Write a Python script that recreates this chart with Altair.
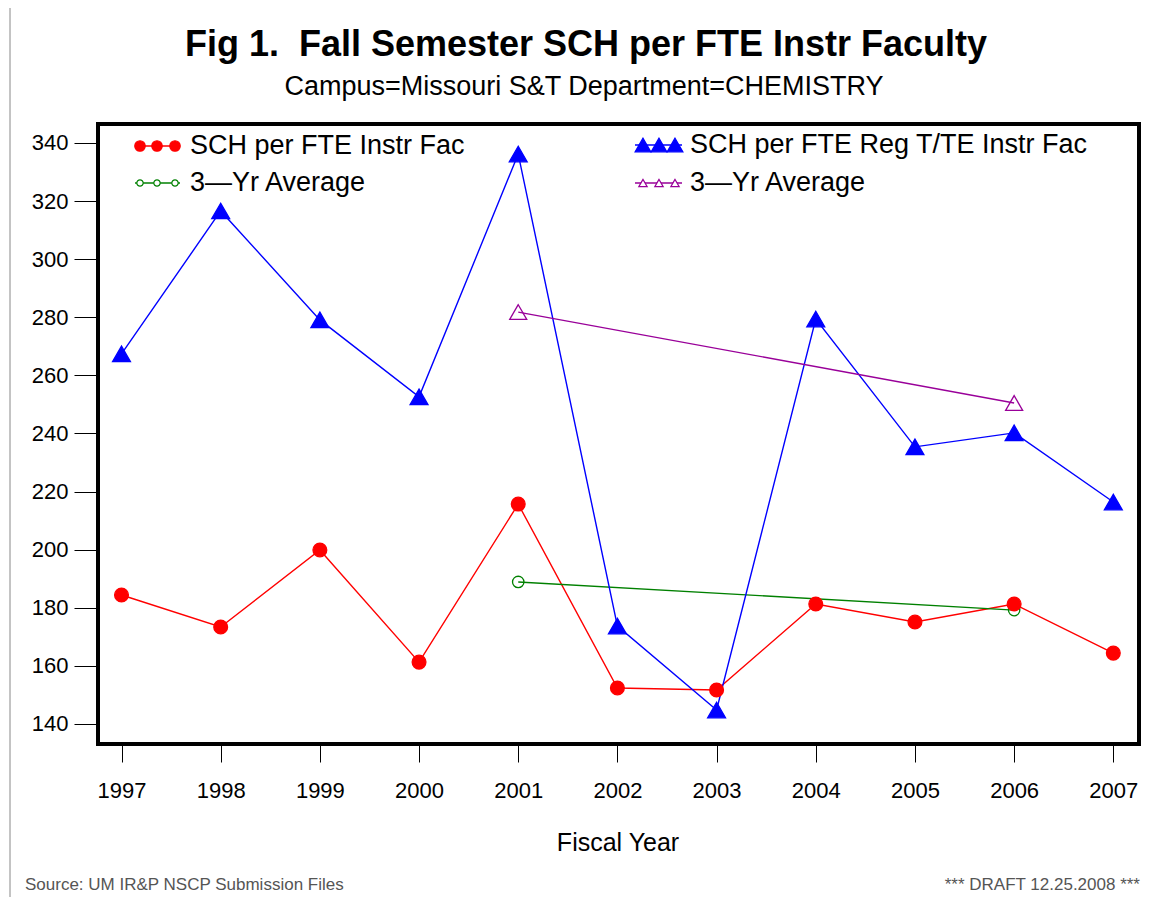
import altair as alt
import pandas as pd

# ---- data ----
years = [1997, 1998, 1999, 2000, 2001, 2002, 2003, 2004, 2005, 2006, 2007]
sch_instr = [184.4, 173.4, 199.9, 161.3, 215.7, 152.4, 151.7, 181.3, 175.1, 181.3, 164.4]
sch_regtte = [267.4, 316.6, 279.1, 252.6, 336.2, 173.7, 144.8, 279.4, 235.4, 240.2, 216.4]
avg_years = [2001, 2006]
avg_instr = [188.9, 179.2]
avg_regtte = [281.8, 250.5]
y_ticks = [140, 160, 180, 200, 220, 240, 260, 280, 300, 320, 340]

series_names = ["SCH per FTE Instr Fac", "3\u2014Yr Average",
                "SCH per FTE Reg T/TE Instr Fac", "3\u2014Yr Average "]
series_colors = ["#ff0000", "#008000", "#0000ff", "#990099"]
series_shapes = ["circle", "circle", "triangle-up", "triangle-up"]
series_filled = [True, False, True, False]

title_text = "Fig 1. \u00a0Fall Semester SCH per FTE Instr Faculty"
subtitle_text = "Campus=Missouri S&T Department=CHEMISTRY"
x_title = "Fiscal Year"
footer_left = "Source: UM IR&P NSCP Submission Files"
footer_right = "*** DRAFT 12.25.2008 ***"

FONT = "Liberation Sans"
W, H = 1041, 620

# ---- tables ----
rows = []
for yr, v in zip(years, sch_instr):
    rows.append({"year": yr, "value": v, "series": series_names[0]})
for yr, v in zip(avg_years, avg_instr):
    rows.append({"year": yr, "value": v, "series": series_names[1]})
for yr, v in zip(years, sch_regtte):
    rows.append({"year": yr, "value": v, "series": series_names[2]})
for yr, v in zip(avg_years, avg_regtte):
    rows.append({"year": yr, "value": v, "series": series_names[3]})
df = pd.DataFrame(rows)

xscale = alt.Scale(domain=[1996.763, 2007.259], nice=False, zero=False)
yscale = alt.Scale(domain=[133.11, 346.54], nice=False, zero=False)
color_scale = alt.Scale(domain=series_names, range=series_colors)

X = alt.X("year:Q", scale=xscale,
          axis=alt.Axis(values=years, format="d", title=None, grid=False, domain=False,
                        tickSize=18, tickColor="#000000", tickWidth=1,
                        labelPadding=18, labelFontSize=22, labelFont=FONT,
                        labelColor="#000000", labelFlush=False))
Y = alt.Y("value:Q", scale=yscale,
          axis=alt.Axis(values=y_ticks, format="d", title=None, grid=False, domain=False,
                        tickSize=24, tickColor="#000000", tickWidth=1,
                        labelPadding=6, labelFontSize=22, labelFont=FONT,
                        labelColor="#000000", labelFlush=False))

base = alt.Chart(df)

lines = base.mark_line(strokeWidth=1.4, clip=False).encode(
    x=X, y=Y,
    color=alt.Color("series:N", scale=color_scale, legend=None),
    detail="series:N",
)

size_map = {series_names[0]: 190, series_names[1]: 130,
            series_names[2]: 320, series_names[3]: 290}

def pts(idx):
    name = series_names[idx]
    return alt.Chart(df[df["series"] == name]).mark_point(
        shape=series_shapes[idx],
        filled=series_filled[idx],
        fill=series_colors[idx] if series_filled[idx] else "transparent",
        stroke=series_colors[idx],
        strokeWidth=1.3,
        opacity=1,
        size=size_map[name],
        clip=False,
    ).encode(x=alt.X("year:Q", scale=xscale), y=alt.Y("value:Q", scale=yscale))

# ---- hand-made legend (inside plot) ----
leg_rows = [  # (series idx, row y, symbol xs, line x0, x1, text x, symbol size)
    (0, 22, [42, 59, 77], 37, 82, 92, 110),
    (1, 59, [42, 59, 77], 37, 82, 92, 40),
    (2, 21, [545, 561, 577], 537, 584, 592, 250),
    (3, 59, [545, 561, 577], 537, 584, 592, 70),
]
leg_sym, leg_line, leg_txt = [], [], []
for idx, ry, xs, x0, x1, tx, sz in leg_rows:
    for sx in xs:
        leg_sym.append({"px": sx, "py": ry, "shp": series_shapes[idx],
                        "fc": series_colors[idx] if series_filled[idx] else "white",
                        "sc": series_colors[idx], "sz": sz})
    leg_line.append({"px": x0, "px2": x1, "py": ry, "sc": series_colors[idx]})
    leg_txt.append({"px": tx, "py": ry, "label": series_names[idx].strip()})

legend_lines = alt.Chart(pd.DataFrame(leg_line)).mark_rule(strokeWidth=1.4).encode(
    x=alt.X("px:Q", scale=None), x2="px2:Q", y=alt.Y("py:Q", scale=None),
    color=alt.Color("sc:N", scale=None))
legend_syms = alt.Chart(pd.DataFrame(leg_sym)).mark_point(opacity=1, strokeWidth=1.2).encode(
    x=alt.X("px:Q", scale=None), y=alt.Y("py:Q", scale=None),
    shape=alt.Shape("shp:N", scale=None),
    fill=alt.Fill("fc:N", scale=None), stroke=alt.Stroke("sc:N", scale=None),
    size=alt.Size("sz:Q", scale=None))
legend_text = alt.Chart(pd.DataFrame(leg_txt)).mark_text(
    align="left", baseline="middle", fontSize=27, font=FONT, color="#000000").encode(
    x=alt.X("px:Q", scale=None), y=alt.Y("py:Q", scale=None), text="label:N")

# ---- titles and annotations (pixel positions relative to plot area) ----
def label(text, x, y, size, align="center", weight="normal", color="#000000", baseline="middle"):
    return alt.Chart(pd.DataFrame({"t": [text]})).mark_text(
        align=align, baseline=baseline, fontSize=size, fontWeight=weight,
        font=FONT, color=color).encode(
        x=alt.value(x), y=alt.value(y), text="t:N")

title = label(title_text, 488, -79, 36, weight="bold")
subtitle = label(subtitle_text, 486, -37, 27)
xtitle = label(x_title, 520, 719, 25)
foot_l = label(footer_left, -73, 766, 17, align="left", color="#555555", baseline="alphabetic")
foot_r = label(footer_right, 1042, 766, 17, align="right", color="#555555", baseline="alphabetic")

page_border = alt.Chart(pd.DataFrame({"a": [0]})).mark_rule(color="#888888", strokeWidth=1).encode(
    x=alt.value(-88), y=alt.value(-116), y2=alt.value(773))

chart = alt.layer(
    page_border, lines, pts(1), pts(3), pts(0), pts(2),
    legend_lines, legend_syms, legend_text,
    title, subtitle, xtitle, foot_l, foot_r,
).properties(
    width=W, height=H,
    autosize=alt.AutoSizeParams(type="none"),
    padding={"left": 90, "top": 116, "right": 2, "bottom": 153},
    background="white",
).configure_view(
    stroke="#000000", strokeWidth=4,
)

chart.save("out.html", embed_options={"renderer": "svg", "actions": False})
